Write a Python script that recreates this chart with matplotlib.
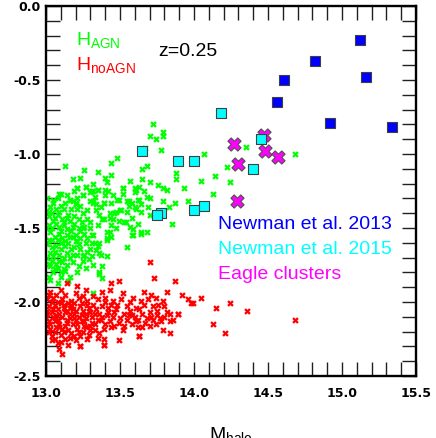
import numpy as np
import matplotlib
matplotlib.use('Agg')
import matplotlib.pyplot as plt
from matplotlib.ticker import MultipleLocator, FormatStrFormatter

# Newman et al. 2013 clusters (log Mhalo, slope)
n13_m = [15.12, 14.82, 14.61, 15.16, 14.56, 14.92, 15.34]
n13_s = [-0.23, -0.37, -0.50, -0.48, -0.65, -0.79, -0.82]

# Newman et al. 2015 groups
n15_m = [14.18, 14.45, 14.40, 13.65, 13.89, 14.00, 13.78, 13.75, 14.00, 14.07]
n15_s = [-0.72, -0.90, -1.10, -0.98, -1.05, -1.05, -1.40, -1.41, -1.38, -1.35]

# Eagle clusters
eagle_m = [14.27, 14.47, 14.48, 14.57, 14.30, 14.29]
eagle_s = [-0.93, -0.87, -0.98, -1.02, -1.07, -1.32]

# Horizon-AGN haloes
hagn = np.array([
    (13.72, -0.80), (13.70, -0.88), (13.79, -0.85), (13.79, -0.88), (13.74, -0.90),
    (13.67, -0.96), (13.78, -0.97), (13.48, -1.03), (13.44, -1.06), (13.68, -1.08),
    (13.65, -1.10), (13.13, -1.08), (13.26, -1.11), (13.35, -1.12), (13.44, -1.14),
    (13.40, -1.16), (13.18, -1.17), (13.23, -1.16), (13.32, -1.20), (13.41, -1.19),
    (13.57, -1.18), (13.65, -1.17), (13.70, -1.19), (13.76, -1.21), (13.79, -1.23),
    (13.82, -1.24), (13.88, -1.13), (13.88, -1.17), (13.93, -1.23), (13.21, -1.23),
    (13.27, -1.22), (13.32, -1.25), (13.35, -1.24), (13.40, -1.24), (13.42, -1.25),
    (13.52, -1.23), (13.60, -1.23), (13.63, -1.22), (13.60, -1.26), (13.66, -1.25),
    (13.10, -1.27), (13.25, -1.28), (13.30, -1.26), (13.40, -1.28), (13.45, -1.28),
    (13.49, -1.31), (13.56, -1.32), (13.63, -1.31), (13.68, -1.29), (13.70, -1.30),
    (13.79, -1.32), (13.87, -1.33), (13.96, -1.32), (13.16, -1.31), (13.20, -1.33),
    (13.05, -1.31), (13.32, -1.32), (13.34, -1.34), (13.39, -1.33), (13.44, -1.33),
    (13.56, -1.35), (13.60, -1.36), (13.64, -1.34), (13.69, -1.36), (13.83, -1.36),
    (13.51, -1.38), (13.55, -1.39), (13.46, -1.40), (13.39, -1.44), (13.43, -1.43),
    (13.53, -1.46), (13.57, -1.49), (13.59, -1.51), (13.64, -1.53), (13.68, -1.53),
    (13.85, -1.47), (13.59, -1.55), (13.47, -1.50), (13.41, -1.53), (13.44, -1.56),
    (13.41, -1.58), (13.31, -1.55), (13.25, -1.50), (13.18, -1.56), (13.21, -1.59),
    (13.55, -1.63), (13.33, -1.60), (13.36, -1.67), (13.41, -1.69), (13.25, -1.69),
    (14.35, -0.95), (14.07, -1.00), (14.68, -1.00), (14.22, -1.09), (14.14, -1.15),
    (14.24, -1.19), (14.05, -1.18), (14.13, -1.27),
    (13.09, -1.27), (13.21, -1.23), (13.27, -1.22), (13.31, -1.25), (13.35, -1.24),
    (13.52, -1.23), (13.61, -1.24), (13.16, -1.31), (13.18, -1.32), (13.21, -1.30),
    (13.25, -1.28), (13.30, -1.32), (13.32, -1.33), (13.39, -1.33), (13.48, -1.31),
    (13.55, -1.32), (13.58, -1.33), (13.62, -1.31), (13.03, -1.36), (13.07, -1.37),
    (13.12, -1.37), (13.17, -1.37), (13.21, -1.37), (13.34, -1.38), (13.36, -1.41),
    (13.43, -1.40), (13.47, -1.39), (13.50, -1.38), (13.61, -1.37), (13.64, -1.39),
    (13.02, -1.42), (13.08, -1.41), (13.11, -1.44), (13.16, -1.45), (13.19, -1.42),
    (13.22, -1.44), (13.28, -1.44), (13.38, -1.44), (13.45, -1.44), (13.54, -1.46),
    (13.02, -1.48), (13.07, -1.47), (13.12, -1.48), (13.18, -1.49), (13.22, -1.50),
    (13.26, -1.49), (13.30, -1.50), (13.44, -1.48), (13.43, -1.53), (13.58, -1.55),
    (13.64, -1.54), (13.03, -1.53), (13.09, -1.54), (13.14, -1.55), (13.20, -1.55),
    (13.26, -1.54), (13.32, -1.55), (13.41, -1.57), (13.02, -1.58), (13.08, -1.58),
    (13.13, -1.59), (13.20, -1.59), (13.27, -1.60), (13.31, -1.60), (13.35, -1.62),
    (13.04, -1.63), (13.10, -1.64), (13.17, -1.64), (13.23, -1.64), (13.30, -1.64),
    (13.36, -1.60), (13.03, -1.67), (13.09, -1.68), (13.14, -1.67), (13.21, -1.68),
    (13.26, -1.68), (13.31, -1.69), (13.37, -1.68), (13.04, -1.72), (13.11, -1.73),
    (13.18, -1.73), (13.25, -1.72), (13.27, -1.77), (13.32, -1.75), (13.38, -1.76),
    (13.03, -1.76), (13.08, -1.77), (13.12, -1.78), (13.21, -1.80), (13.36, -1.81),
    (13.10, -1.83), (13.16, -1.83), (13.08, -1.87), (13.01, -1.30), (13.05, -1.33),
    (13.10, -1.35), (13.02, -1.39), (13.06, -1.43), (13.12, -1.46), (13.04, -1.50),
    (13.09, -1.49), (13.14, -1.51), (13.06, -1.56), (13.11, -1.57), (13.16, -1.56),
    (13.01, -1.61), (13.07, -1.62), (13.13, -1.62), (13.06, -1.66), (13.12, -1.70),
    (13.01, -1.70), (13.07, -1.74), (13.14, -1.75), (13.05, -1.80), (13.02, -1.83),
    (13.13, -1.79), (13.18, -1.68), (13.23, -1.57), (13.17, -1.52), (13.24, -1.46),
    (13.15, -1.41), (13.25, -1.40), (13.20, -1.34), (13.38, -1.84), (13.32, -1.94),
    (13.03, -1.85), (13.36, -1.80),
    (13.04, -1.40), (13.09, -1.39), (13.14, -1.43), (13.19, -1.47), (13.23, -1.52),
    (13.28, -1.57), (13.05, -1.45), (13.10, -1.52), (13.15, -1.60), (13.19, -1.63),
    (13.22, -1.61), (13.28, -1.66), (13.01, -1.50), (13.04, -1.58), (13.10, -1.60),
    (13.16, -1.70), (13.09, -1.72), (13.05, -1.69), (13.02, -1.74), (13.06, -1.78),
    (13.10, -1.80), (13.15, -1.86), (13.22, -1.76), (13.29, -1.71), (13.34, -1.65),
    (13.30, -1.46), (13.35, -1.48), (13.28, -1.38), (13.23, -1.35), (13.13, -1.33),
    (13.08, -1.30), (13.14, -1.28), (13.19, -1.25), (13.33, -1.29), (13.37, -1.36),
    (13.52, -1.27), (13.58, -1.43), (13.49, -1.45), (13.62, -1.47), (13.70, -1.41),
])

# Horizon-noAGN haloes
hnoagn = np.array([
    (13.14, -1.87), (13.21, -1.89), (13.44, -1.87), (13.49, -1.86), (13.70, -1.73),
    (13.73, -1.84), (13.87, -1.86), (13.03, -1.93), (13.10, -1.92), (13.20, -1.94),
    (13.27, -1.92), (13.38, -1.93), (13.43, -1.92), (13.52, -1.94), (13.66, -1.93),
    (13.71, -1.95), (13.82, -1.93), (13.92, -1.95), (13.01, -1.98), (13.05, -1.97),
    (13.11, -1.98), (13.17, -1.99), (13.22, -1.97), (13.28, -1.99), (13.35, -1.98),
    (13.40, -1.97), (13.45, -1.99), (13.51, -1.98), (13.59, -1.97), (13.64, -1.99),
    (13.69, -1.98), (13.74, -1.97), (13.79, -1.99), (13.96, -1.98), (14.05, -1.97),
    (13.02, -2.03), (13.06, -2.02), (13.12, -2.04), (13.17, -2.02), (13.23, -2.03),
    (13.29, -2.04), (13.32, -2.02), (13.38, -2.03), (13.42, -2.04), (13.48, -2.02),
    (13.55, -2.03), (13.61, -2.04), (13.66, -2.02), (13.72, -2.03), (13.76, -2.02),
    (13.80, -2.03), (13.99, -2.01), (14.15, -2.04), (14.24, -2.01), (13.01, -2.08),
    (13.07, -2.09), (13.13, -2.07), (13.19, -2.08), (13.24, -2.09), (13.30, -2.07),
    (13.36, -2.08), (13.41, -2.09), (13.46, -2.07), (13.53, -2.08), (13.58, -2.09),
    (13.65, -2.08), (13.70, -2.07), (13.75, -2.09), (13.89, -2.08), (14.36, -2.06),
    (13.02, -2.13), (13.08, -2.12), (13.14, -2.14), (13.20, -2.12), (13.26, -2.13),
    (13.31, -2.14), (13.37, -2.12), (13.43, -2.13), (13.49, -2.14), (13.55, -2.12),
    (13.61, -2.13), (13.67, -2.14), (13.72, -2.12), (13.78, -2.13), (13.84, -2.13),
    (14.13, -2.15), (14.68, -2.12), (13.03, -2.18), (13.09, -2.17), (13.15, -2.19),
    (13.21, -2.18), (13.27, -2.17), (13.33, -2.19), (13.39, -2.18), (13.44, -2.17),
    (13.52, -2.19), (13.62, -2.17), (13.79, -2.19), (14.21, -2.21), (13.04, -2.23),
    (13.10, -2.22), (13.16, -2.24), (13.23, -2.23), (13.29, -2.22), (13.35, -2.24),
    (13.39, -2.25), (13.49, -2.26), (13.63, -2.23), (13.84, -2.21), (13.08, -2.28),
    (13.15, -2.29), (13.23, -2.30), (13.39, -2.29), (13.09, -2.32), (13.11, -2.35),
    (13.04, -2.00), (13.08, -2.05), (13.10, -2.01), (13.14, -2.06), (13.05, -2.10),
    (13.11, -2.10), (13.16, -2.11), (13.03, -2.15), (13.09, -2.15), (13.13, -2.16),
    (13.06, -2.20), (13.12, -2.20), (13.18, -2.15), (13.18, -2.05), (13.22, -2.10),
    (13.25, -2.06), (13.27, -2.11), (13.21, -2.15), (13.26, -2.16), (13.31, -2.10),
    (13.34, -2.05), (13.33, -2.15), (13.01, -2.06), (13.00, -2.11), (13.02, -2.20),
    (13.07, -1.95), (13.13, -1.95), (13.19, -2.01), (13.15, -2.01), (13.06, -2.25),
    (13.13, -2.25), (13.19, -2.23), (13.25, -2.20), (13.30, -2.19), (13.36, -2.21),
    (13.40, -2.15), (13.45, -2.10), (13.47, -2.05), (13.50, -2.11), (13.57, -2.06),
    (13.60, -2.10), (13.63, -2.05), (13.68, -2.11), (13.53, -2.16), (13.58, -2.15),
    (13.65, -2.17), (13.70, -2.16), (13.74, -2.15), (13.80, -2.10), (13.86, -2.12),
    (13.75, -2.06), (13.82, -2.07), (13.98, -2.01), (13.84, -2.08), (13.89, -2.08),
    (13.63, -2.23), (13.39, -2.29), (13.23, -2.30),
    (13.02, -1.95), (13.05, -2.05), (13.09, -2.08), (13.12, -2.02), (13.16, -2.04),
    (13.20, -2.06), (13.24, -2.01), (13.28, -2.02), (13.33, -2.08), (13.35, -2.12),
    (13.30, -2.16), (13.24, -2.13), (13.19, -2.11), (13.14, -2.12), (13.06, -2.13),
    (13.04, -2.07), (13.01, -2.16), (13.07, -2.17), (13.11, -2.18), (13.17, -2.21),
    (13.22, -2.20), (13.28, -2.25), (13.20, -2.26), (13.10, -2.27), (13.04, -2.26),
    (13.16, -2.08), (13.27, -2.08), (13.38, -2.10), (13.42, -2.07), (13.44, -2.02),
    (13.40, -2.00), (13.46, -2.16), (13.56, -2.09), (13.62, -2.12), (13.71, -2.10),
    (13.77, -2.11), (13.57, -2.00), (13.08, -2.00), (13.25, -1.96), (13.32, -1.96),
])

plt.rcParams['font.family'] = ['Liberation Sans', 'DejaVu Sans']
plt.rcParams['mathtext.fontset'] = 'custom'
plt.rcParams['mathtext.rm'] = 'Liberation Sans'
plt.rcParams['mathtext.it'] = 'Liberation Sans:italic'

fig = plt.figure(figsize=(4.36, 4.38), dpi=100)
ax = fig.add_axes([46/436, 62/438, 370/436, 370/438])

ax.scatter(hagn[:, 0], hagn[:, 1], marker='X', s=22, c='#00ff00', linewidths=0, zorder=2)
ax.scatter(hnoagn[:, 0], hnoagn[:, 1], marker='X', s=22, c='#ff0000', linewidths=0, zorder=2)
ax.scatter(eagle_m, eagle_s, marker='X', s=90, c='#ff00ff', edgecolors='#505050',
           linewidths=0.8, zorder=3)
ax.scatter(n15_m, n15_s, marker='s', s=55, c='#00ffff', edgecolors='#404040',
           linewidths=0.8, zorder=4)
ax.scatter(n13_m, n13_s, marker='s', s=55, c='#0000ff', edgecolors='#404040',
           linewidths=0.8, zorder=4)

ax.set_xlim(13.0, 15.5)
ax.set_ylim(-2.5, 0.0)
ax.xaxis.set_major_locator(MultipleLocator(0.5))
ax.xaxis.set_minor_locator(MultipleLocator(0.1))
ax.yaxis.set_major_locator(MultipleLocator(0.5))
ax.yaxis.set_minor_locator(MultipleLocator(0.1))
ax.xaxis.set_major_formatter(FormatStrFormatter('%.1f'))
ax.yaxis.set_major_formatter(FormatStrFormatter('%.1f'))
ax.tick_params(which='both', direction='in', length=10, width=1.0,
               top=True, right=True, color='#202020')
ax.tick_params(axis='x', pad=8)
ax.tick_params(axis='y', pad=4)
for lab in ax.get_xticklabels() + ax.get_yticklabels():
    lab.set_family('DejaVu Sans')
    lab.set_fontweight('bold')
    lab.set_fontsize(9)
for sp in ax.spines.values():
    sp.set_linewidth(1.7)

ax.set_xlabel(r'M$_{\rm halo}$', fontsize=14)
ax.xaxis.set_label_coords(0.5, -0.132)
ax.set_ylabel(r'inner slope of $\rho_{\rm DM}$', fontsize=14)
ax.yaxis.set_label_coords(-0.116, 0.5)

ax.text(0.081, 0.895, r'H$_{\rm AGN}$', transform=ax.transAxes,
        color='#00ff00', fontsize=14, va='baseline')
ax.text(0.081, 0.827, r'H$_{\rm noAGN}$', transform=ax.transAxes,
        color='#ff0000', fontsize=14, va='baseline')
ax.text(0.303, 0.866, 'z=0.25', transform=ax.transAxes, fontsize=14, va='baseline')

ax.text(0.465, 0.397, 'Newman et al. 2013', transform=ax.transAxes,
        color='#0000ff', fontsize=14, va='baseline')
ax.text(0.465, 0.330, 'Newman et al. 2015', transform=ax.transAxes,
        color='#00ffff', fontsize=14, va='baseline')
ax.text(0.465, 0.262, 'Eagle clusters', transform=ax.transAxes,
        color='#ff00ff', fontsize=14, va='baseline')

fig.savefig('out.png', dpi=100)
